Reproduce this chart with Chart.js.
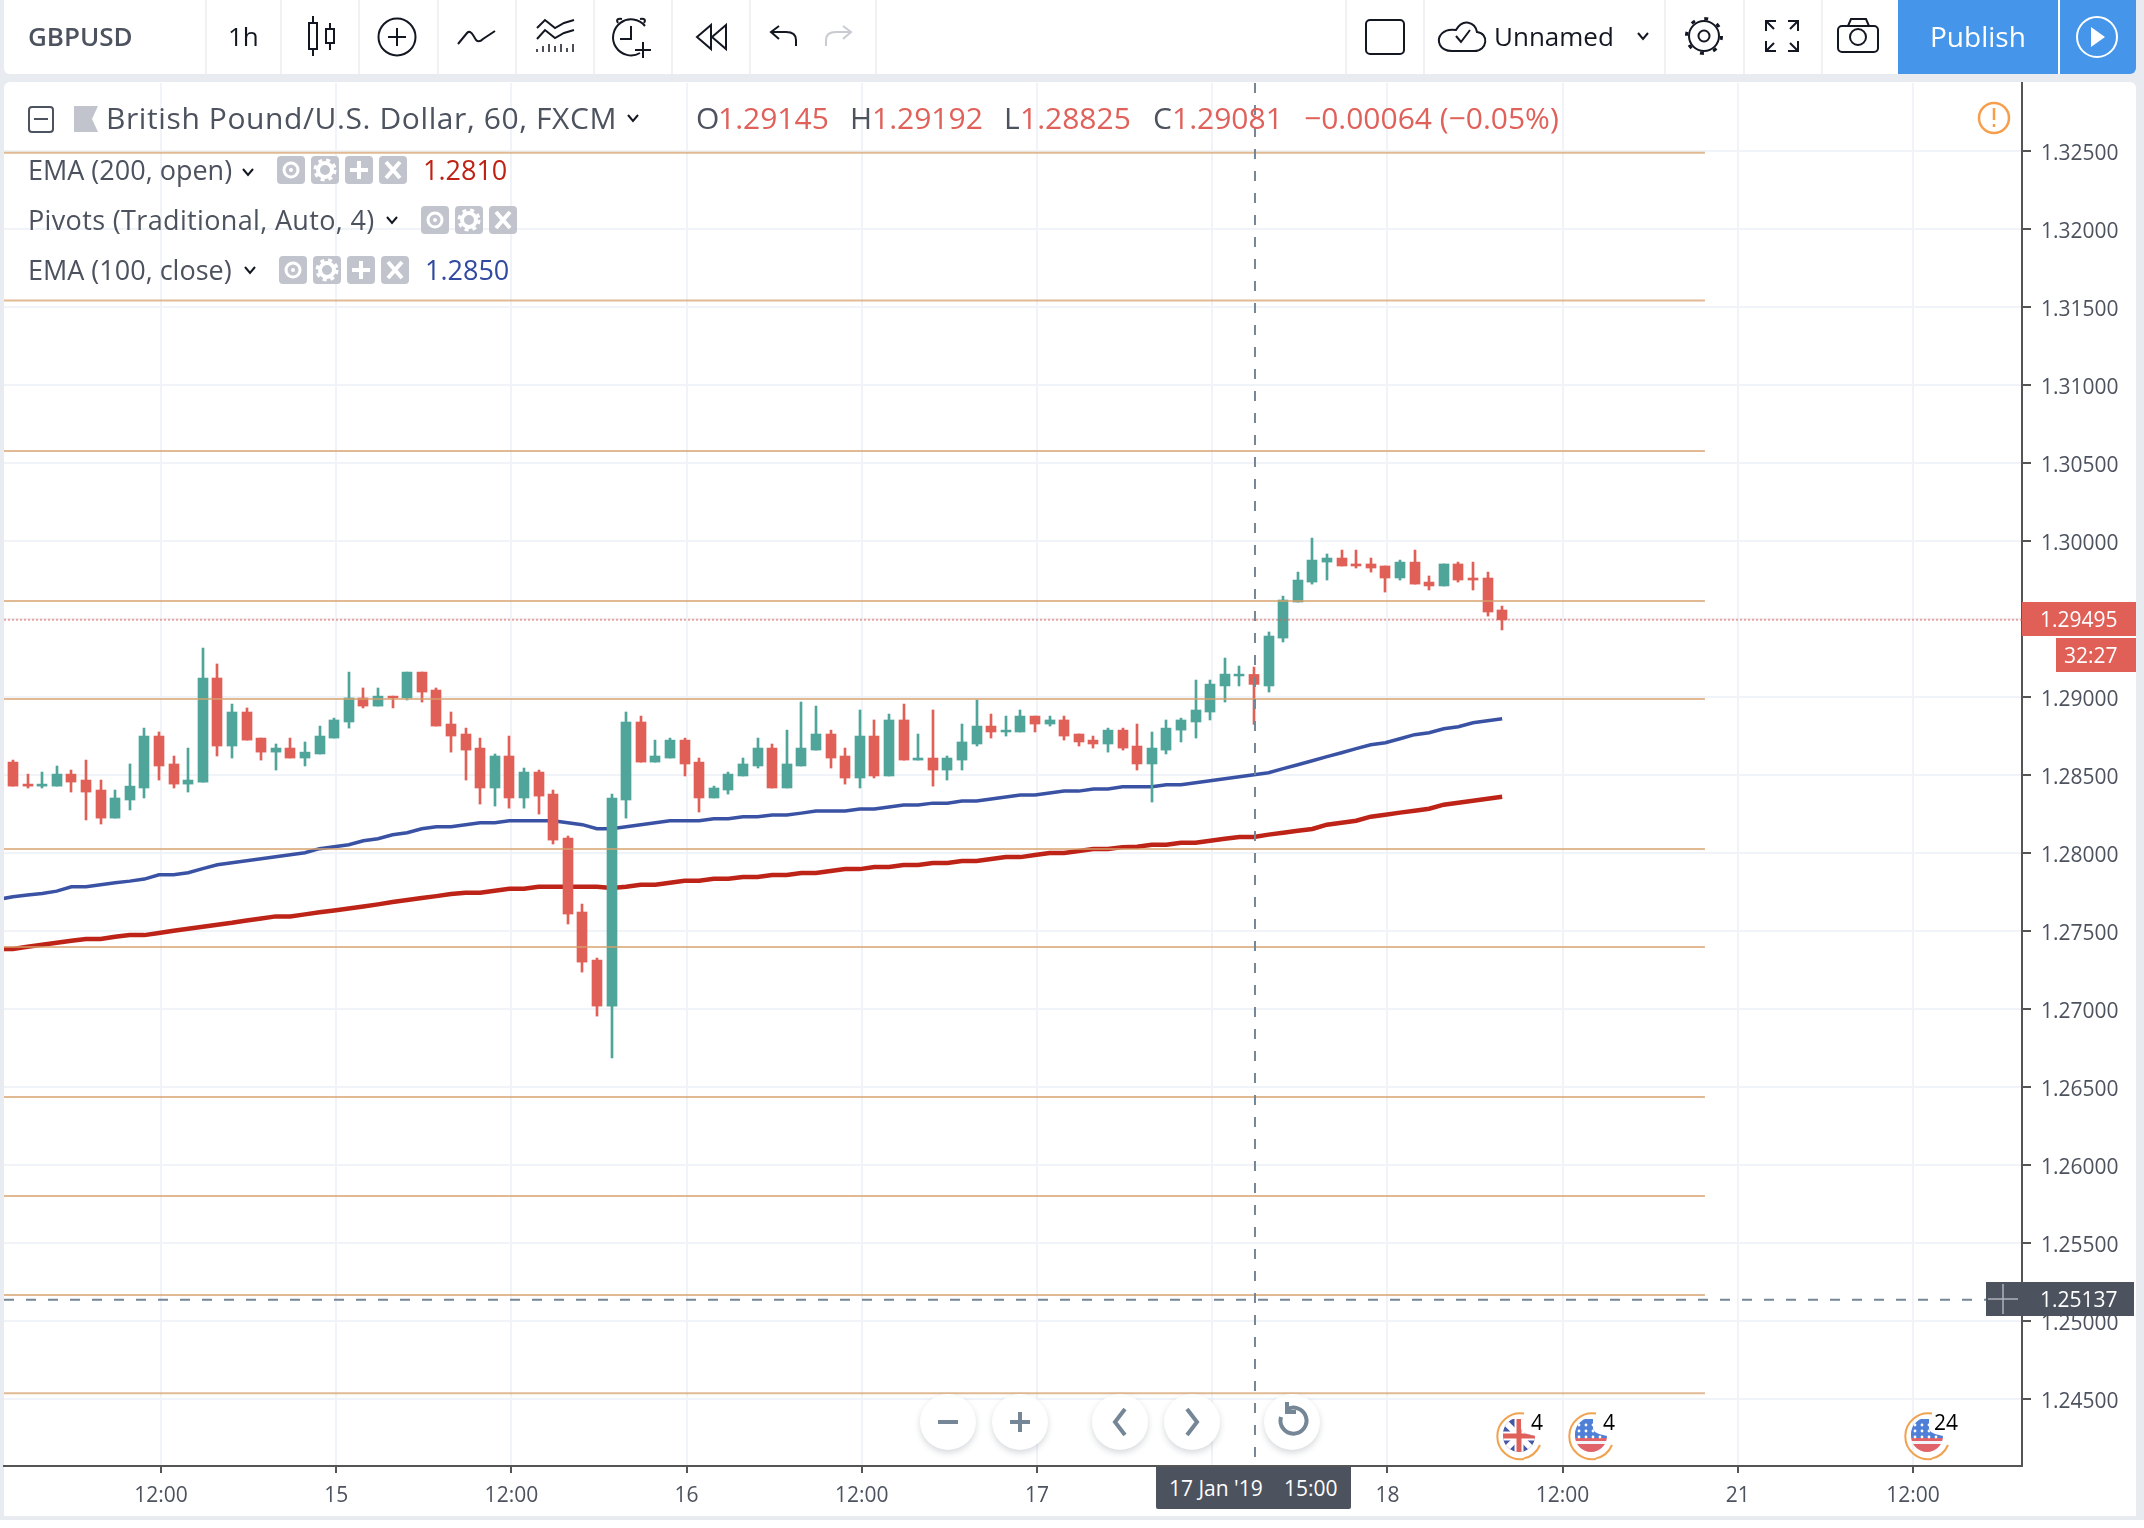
<!DOCTYPE html>
<html>
<head>
<meta charset="utf-8">
<title>GBPUSD</title>
<script src="https://cdn.jsdelivr.net/npm/chart.js@4/dist/chart.umd.min.js"></script>
<style>
  html, body { margin: 0; padding: 0; width: 2144px; height: 1528px; overflow: hidden; background: #e8ecf0; font-family: "Open Sans", sans-serif; }
  .box { position: absolute; }
  .t { position: absolute; white-space: nowrap; line-height: 40px; height: 40px; color: #4c525e; }
  .sep { position: absolute; top: 0; width: 2px; height: 74px; background: #eff1f3; }
  .btn { position: absolute; top: 1394px; width: 56px; height: 56px; border-radius: 50%; background: #fff; box-shadow: 0 3px 6px rgba(70,80,100,.22); }
  canvas { position: absolute; left: 0; top: 0; }
  svg { position: absolute; left: 0; top: 0; pointer-events: none; }
</style>
</head>
<body>
<div class="box" style="left:4px;top:0;width:2132px;height:74px;background:#fff;border-radius:0 0 6px 6px"></div>
<div class="box" style="left:4px;top:82px;width:2132px;height:1434px;background:#fff;border-radius:6px 6px 0 0"></div>
<div class="box" style="left:0;top:1520px;width:2144px;height:8px;background:#fff"></div>
<div class="sep" style="left:205px"></div><div class="sep" style="left:280px"></div><div class="sep" style="left:358px"></div>
<div class="sep" style="left:437px"></div><div class="sep" style="left:515px"></div><div class="sep" style="left:593px"></div>
<div class="sep" style="left:671px"></div><div class="sep" style="left:749px"></div><div class="sep" style="left:875px"></div>
<div class="sep" style="left:1345px"></div><div class="sep" style="left:1423px"></div><div class="sep" style="left:1664px"></div>
<div class="sep" style="left:1743px"></div><div class="sep" style="left:1821px"></div>
<div class="box" style="left:1898px;top:0;width:160px;height:74px;background:#4596ea"></div>
<div class="box" style="left:2060px;top:0;width:76px;height:74px;background:#4596ea;border-radius:0 0 6px 0"></div>

<canvas id="chart" width="2144" height="1528"></canvas>

<div class="box" style="left:2022px;top:602px;width:114px;height:34px;background:#e05f57"></div>
<div class="box" style="left:2056px;top:638px;width:80px;height:34px;background:#e05f57"></div>
<div class="box" style="left:1986px;top:1282px;width:148px;height:34px;background:#4c525e"></div>
<div class="box" style="left:1156px;top:1467px;width:195px;height:42px;background:#4c525e;border-radius:0 0 2px 2px"></div>
<div class="btn" style="left:920px"></div><div class="btn" style="left:992px"></div>
<div class="btn" style="left:1092px"></div><div class="btn" style="left:1164px"></div><div class="btn" style="left:1264px"></div>

<div class="t" style="left:28px;top:16px;font-size:26px;font-weight:600">GBPUSD</div>
<div class="t" style="left:228px;top:16px;font-size:26px;color:#131722">1h</div>
<div class="t" style="left:1494px;top:16px;font-size:26px;color:#131722">Unnamed</div>
<div class="t" style="left:1930px;top:16px;font-size:28px;color:#fff">Publish</div>

<div class="t" style="left:106px;top:98px;font-size:30px;letter-spacing:.6px">British Pound/U.S. Dollar, 60, FXCM</div>
<div class="t" style="left:696px;top:98px;font-size:30px">O</div><div class="t" style="left:718px;top:98px;font-size:30px;color:#e0605a">1.29145</div>
<div class="t" style="left:850px;top:98px;font-size:30px">H</div><div class="t" style="left:872px;top:98px;font-size:30px;color:#e0605a">1.29192</div>
<div class="t" style="left:1004px;top:98px;font-size:30px">L</div><div class="t" style="left:1020px;top:98px;font-size:30px;color:#e0605a">1.28825</div>
<div class="t" style="left:1153px;top:98px;font-size:30px">C</div><div class="t" style="left:1172px;top:98px;font-size:30px;color:#e0605a">1.29081</div>
<div class="t" style="left:1304px;top:98px;font-size:30px;color:#e0605a">−0.00064 (−0.05%)</div>

<div class="t" style="left:28px;top:150px;font-size:27px">EMA (200, open)</div>
<div class="t" style="left:423px;top:150px;font-size:27px;color:#bf2215">1.2810</div>
<div class="t" style="left:28px;top:200px;font-size:27px;letter-spacing:.35px">Pivots (Traditional, Auto, 4)</div>
<div class="t" style="left:28px;top:250px;font-size:27px">EMA (100, close)</div>
<div class="t" style="left:425px;top:250px;font-size:27px;color:#2f4aa0">1.2850</div>

<div class="t" style="left:2040px;top:599px;font-size:21px;color:#fff">1.29495</div>
<div class="t" style="left:2064px;top:635px;font-size:21px;color:#fff">32:27</div>
<div class="t" style="left:2040px;top:1279px;font-size:21px;color:#fff">1.25137</div>
<div class="t" style="left:1169px;top:1468px;font-size:21px;color:#fff">17 Jan '19</div>
<div class="t" style="left:1284px;top:1468px;font-size:21px;color:#fff">15:00</div>

<div class="t" style="left:1531px;top:1402px;font-size:21px;color:#000">4</div>
<div class="t" style="left:1603px;top:1402px;font-size:21px;color:#000">4</div>
<div class="t" style="left:1934px;top:1402px;font-size:21px;color:#000">24</div>

<svg id="icons" width="2144" height="1528" viewBox="0 0 2144 1528"></svg>

<script>
// GBPUSD 1h candles
const opens = [1.28583,1.28442,1.28429,1.28429,1.28506,1.28468,1.28404,1.28224,1.28340,1.28417,1.28750,1.28571,1.28442,1.28455,1.29122,1.28686,1.28904,1.28737,1.28647,1.28673,1.28609,1.28635,1.28737,1.28840,1.28994,1.28942,1.29006,1.28994,1.29160,1.29045,1.28827,1.28763,1.28673,1.28417,1.28622,1.28353,1.28519,1.28378,1.28096,1.27622,1.27314,1.27019,1.28340,1.28840,1.28583,1.28609,1.28724,1.28583,1.28353,1.28404,1.28494,1.28558,1.28673,1.28417,1.28558,1.28660,1.28763,1.28622,1.28481,1.28750,1.28494,1.28853,1.28596,1.28609,1.28532,1.28596,1.28699,1.28814,1.28776,1.28776,1.28878,1.28827,1.28853,1.28763,1.28724,1.28699,1.28788,1.28686,1.28571,1.28660,1.28788,1.28840,1.28904,1.29071,1.29135,1.29145,1.29071,1.29378,1.29609,1.29737,1.29865,1.29891,1.29853,1.29853,1.29840,1.29763,1.29865,1.29737,1.29712,1.29853,1.29763,1.29763,1.29558];
const highs = [1.28596,1.28506,1.28519,1.28558,1.28532,1.28596,1.28468,1.28404,1.28571,1.28801,1.28776,1.28622,1.28673,1.29314,1.29212,1.28955,1.28930,1.28737,1.28699,1.28737,1.28712,1.28814,1.28865,1.29160,1.29058,1.29058,1.29006,1.29160,1.29160,1.29058,1.28904,1.28801,1.28737,1.28635,1.28750,1.28545,1.28532,1.28404,1.28109,1.27673,1.27327,1.28378,1.28904,1.28878,1.28724,1.28737,1.28737,1.28609,1.28429,1.28519,1.28609,1.28737,1.28699,1.28788,1.28968,1.28942,1.28788,1.28673,1.28917,1.28853,1.28891,1.28955,1.28763,1.28917,1.28622,1.28827,1.28981,1.28891,1.28878,1.28917,1.28878,1.28878,1.28878,1.28763,1.28750,1.28801,1.28801,1.28827,1.28776,1.28853,1.28865,1.29109,1.29109,1.29250,1.29199,1.29192,1.29417,1.29647,1.29801,1.30019,1.29917,1.29942,1.29942,1.29891,1.29840,1.29878,1.29942,1.29776,1.29853,1.29865,1.29865,1.29801,1.29583];
const lows = [1.28429,1.28417,1.28417,1.28429,1.28391,1.28212,1.28186,1.28224,1.28276,1.28353,1.28468,1.28417,1.28391,1.28455,1.28622,1.28609,1.28724,1.28596,1.28532,1.28609,1.28558,1.28635,1.28737,1.28801,1.28930,1.28942,1.28930,1.28981,1.28968,1.28814,1.28647,1.28468,1.28314,1.28301,1.28288,1.28288,1.28250,1.28058,1.27545,1.27237,1.26955,1.26686,1.28224,1.28583,1.28583,1.28609,1.28494,1.28263,1.28353,1.28378,1.28494,1.28545,1.28417,1.28417,1.28558,1.28660,1.28545,1.28442,1.28417,1.28481,1.28494,1.28596,1.28596,1.28429,1.28468,1.28532,1.28686,1.28737,1.28750,1.28776,1.28776,1.28814,1.28724,1.28686,1.28673,1.28647,1.28660,1.28532,1.28327,1.28635,1.28712,1.28737,1.28853,1.28968,1.29071,1.28825,1.29032,1.29353,1.29609,1.29724,1.29750,1.29840,1.29827,1.29801,1.29673,1.29750,1.29724,1.29686,1.29712,1.29737,1.29686,1.29519,1.29430];
const closes = [1.28429,1.28429,1.28442,1.28506,1.28455,1.28391,1.28224,1.28353,1.28429,1.28750,1.28558,1.28442,1.28468,1.29122,1.28686,1.28904,1.28724,1.28647,1.28673,1.28609,1.28647,1.28750,1.28853,1.28994,1.28942,1.29006,1.28994,1.29160,1.29032,1.28814,1.28750,1.28660,1.28417,1.28622,1.28353,1.28519,1.28365,1.28083,1.27609,1.27301,1.27019,1.28353,1.28840,1.28583,1.28622,1.28724,1.28571,1.28353,1.28417,1.28506,1.28571,1.28673,1.28417,1.28571,1.28673,1.28763,1.28609,1.28481,1.28750,1.28494,1.28853,1.28596,1.28609,1.28532,1.28609,1.28712,1.28814,1.28776,1.28788,1.28878,1.28827,1.28853,1.28750,1.28712,1.28699,1.28788,1.28673,1.28571,1.28673,1.28801,1.28853,1.28917,1.29083,1.29147,1.29147,1.29081,1.29391,1.29622,1.29750,1.29878,1.29891,1.29840,1.29840,1.29827,1.29763,1.29865,1.29724,1.29712,1.29853,1.29750,1.29750,1.29545,1.29495];
// the two EMA arrays start one bar earlier, left of the visible edge
const ema100 = [1.27703,1.27720,1.27731,1.27741,1.27756,1.27784,1.27784,1.27797,1.27810,1.27820,1.27833,1.27861,1.27861,1.27874,1.27900,1.27925,1.27938,1.27951,1.27964,1.27976,1.27989,1.28002,1.28028,1.28041,1.28053,1.28079,1.28092,1.28117,1.28130,1.28156,1.28169,1.28169,1.28182,1.28194,1.28194,1.28207,1.28207,1.28207,1.28207,1.28194,1.28182,1.28156,1.28156,1.28169,1.28182,1.28194,1.28207,1.28207,1.28207,1.28220,1.28220,1.28233,1.28233,1.28244,1.28244,1.28256,1.28269,1.28269,1.28269,1.28282,1.28282,1.28295,1.28308,1.28308,1.28320,1.28320,1.28333,1.28333,1.28346,1.28359,1.28372,1.28372,1.28385,1.28397,1.28397,1.28410,1.28410,1.28425,1.28425,1.28425,1.28438,1.28438,1.28451,1.28464,1.28476,1.28489,1.28502,1.28515,1.28541,1.28566,1.28592,1.28618,1.28643,1.28669,1.28694,1.28707,1.28733,1.28759,1.28771,1.28797,1.28810,1.28835,1.28848,1.28861];
const ema200 = [1.27385,1.27385,1.27400,1.27412,1.27425,1.27438,1.27449,1.27449,1.27464,1.27474,1.27474,1.27487,1.27502,1.27515,1.27528,1.27541,1.27553,1.27568,1.27581,1.27594,1.27594,1.27607,1.27620,1.27632,1.27645,1.27658,1.27671,1.27686,1.27699,1.27712,1.27724,1.27737,1.27746,1.27746,1.27759,1.27771,1.27771,1.27784,1.27784,1.27784,1.27784,1.27784,1.27776,1.27784,1.27797,1.27797,1.27810,1.27823,1.27823,1.27835,1.27835,1.27846,1.27846,1.27859,1.27859,1.27872,1.27872,1.27885,1.27897,1.27897,1.27910,1.27910,1.27923,1.27923,1.27936,1.27936,1.27949,1.27949,1.27962,1.27974,1.27974,1.27987,1.28000,1.28000,1.28013,1.28026,1.28026,1.28038,1.28041,1.28053,1.28053,1.28066,1.28066,1.28079,1.28092,1.28103,1.28103,1.28118,1.28130,1.28143,1.28154,1.28182,1.28194,1.28207,1.28233,1.28246,1.28259,1.28271,1.28284,1.28310,1.28323,1.28335,1.28348,1.28361];
const pivotLevels = [1.32489,1.31542,1.30577,1.29615,1.28987,1.28026,1.27397,1.26436,1.25801,1.25167,1.24538];
const priceTicks = [1.245,1.25,1.255,1.26,1.265,1.27,1.275,1.28,1.285,1.29,1.295,1.30,1.305,1.31,1.315,1.32,1.325];
const timeTicks = [0,12,24,36,48,60,72,84,96,108,120];
const timeLabels = ['12:00','15','12:00','16','12:00','17','12:00','18','12:00','21','12:00'];
const lastPrice = 1.29495;
const crossPrice = 1.25137;
const crossHour = 74.93;

const UP = '#50a59b', DOWN = '#e05f57';
const FIRST_HOUR = -10, BAR_SHIFT = -0.14, PIVOT_END = 105.75;
const X_MIN = -10.753, X_MAX = 127.466, Y_MIN = 1.24071, Y_MAX = 1.32936;

const barX = i => i + FIRST_HOUR + BAR_SHIFT;
const colors = opens.map((o, i) => closes[i] >= o ? UP : DOWN);

function hline(price, x0, x1, style) {
  return Object.assign({type: 'line', pointRadius: 0, borderWidth: 2, data: [{x: x0, y: price}, {x: x1, y: price}]}, style);
}

const datasets = [
  {type: 'line', order: 6, pointRadius: 0, borderWidth: 4.5, borderColor: '#bd2317', data: ema200.map((v, i) => ({x: barX(i - 1), y: v}))},
  {type: 'line', order: 5, pointRadius: 0, borderWidth: 3.5, borderColor: '#3a52a4', data: ema100.map((v, i) => ({x: barX(i - 1), y: v}))},
  {type: 'bar', order: 4, grouped: false, barThickness: 2, backgroundColor: colors, data: lows.map((v, i) => ({x: barX(i), y: [v, highs[i]]}))},
  {type: 'bar', order: 3, grouped: false, barThickness: 10, backgroundColor: colors, data: opens.map((v, i) => ({x: barX(i), y: [v, closes[i]]}))},
  hline(lastPrice, X_MIN, X_MAX, {order: 2, borderColor: 'rgba(224,95,87,.55)', borderDash: [2, 2]}),
  hline(crossPrice, X_MIN, X_MAX, {order: 0, borderColor: '#758696', borderDash: [10, 12]}),
  {type: 'line', order: 0, pointRadius: 0, borderWidth: 2, borderColor: '#758696', borderDash: [10, 12],
    data: [{x: crossHour, y: Y_MAX}, {x: crossHour, y: Y_MIN}]}
];
pivotLevels.forEach(p => datasets.push(hline(p, X_MIN, PIVOT_END, {order: 1, borderColor: 'rgba(214,159,105,.72)'})));

// candles sit on whole pixels like the original, otherwise the wicks go blurry
const snapCandles = {
  id: 'snapCandles',
  afterDatasetsUpdate(chart) {
    chart.getSortedVisibleDatasetMetas().forEach(meta => {
      if (meta.type === 'bar') meta.data.forEach(el => { el.x = Math.round(el.x); });
    });
  }
};

new Chart(document.getElementById('chart'), {
  type: 'bar',
  data: {datasets},
  plugins: [snapCandles],
  options: {
    responsive: false,
    animation: false,
    events: [],
    layout: {padding: {left: 4, top: 83, right: 8, bottom: 12}},
    plugins: {legend: {display: false}, tooltip: {enabled: false}},
    elements: {bar: {borderWidth: 0, borderSkipped: false}, line: {tension: 0}},
    scales: {
      x: {
        type: 'linear', min: X_MIN, max: X_MAX, offset: false,
        grid: {offset: false, color: '#f0f3f7', lineWidth: 2, tickColor: '#555', tickLength: 7, tickWidth: 2},
        border: {color: '#555', width: 2},
        afterFit(scale) { scale.height = 50; },
        afterBuildTicks(scale) { scale.ticks = timeTicks.map(v => ({value: v})); },
        ticks: {
          autoSkip: false, maxRotation: 0, padding: 10, color: '#4c525e',
          font: {family: '"Open Sans"', size: 21},
          callback: v => timeLabels[timeTicks.indexOf(v)]
        }
      },
      y: {
        position: 'right', min: Y_MIN, max: Y_MAX,
        grid: {color: '#f0f3f7', lineWidth: 2, tickColor: '#555', tickLength: 9, tickWidth: 2},
        border: {color: '#555', width: 2},
        afterFit(scale) { scale.width = 114; },
        afterBuildTicks(scale) { scale.ticks = priceTicks.map(v => ({value: v})); },
        ticks: {
          autoSkip: false, padding: 10, labelOffset: 3, color: '#4c525e',
          font: {family: '"Open Sans"', size: 21},
          callback: v => v.toFixed(5)
        }
      }
    }
  }
});

// toolbar and legend glyphs
const INK = 'fill="none" stroke="#131722" stroke-width="2"';
const GREY = '#758696';
function legendButton(x, y, kind) {
  let g = '';
  if (kind === 'eye') g = `<circle cx="${x+14}" cy="${y+14}" r="7" fill="none" stroke="#fff" stroke-width="3"/><circle cx="${x+14}" cy="${y+14}" r="2" fill="#fff"/>`;
  if (kind === 'gear') g = `<circle cx="${x+14}" cy="${y+14}" r="7" fill="none" stroke="#fff" stroke-width="4"/><circle cx="${x+14}" cy="${y+14}" r="10" fill="none" stroke="#fff" stroke-width="3" stroke-dasharray="4 4"/>`;
  if (kind === 'plus') g = `<path d="M${x+14} ${y+5}V${y+23}M${x+5} ${y+14}H${x+23}" stroke="#fff" stroke-width="4"/>`;
  if (kind === 'x') g = `<path d="M${x+7} ${y+6}L${x+21} ${y+22}M${x+21} ${y+6}L${x+7} ${y+22}" stroke="#fff" stroke-width="4"/>`;
  return `<rect x="${x}" y="${y}" width="28" height="28" rx="4" fill="#c1c4cd"/>` + g;
}
function chevron(x, y) {
  return `<path d="M${x-5} ${y-3}L${x} ${y+3}L${x+5} ${y-3}" fill="none" stroke="#131722" stroke-width="2"/>`;
}
function flagRing(cx, cy) {
  return `<path d="M${cx+5} ${cy+23}A23 23 0 1 1 ${cx+5} ${cy-22.4}M${cx+21} ${cy+9}A23 23 0 0 1 ${cx+5} ${cy+22.4}" fill="none" stroke="#f0a24e" stroke-width="2"/>`;
}
const flagShape = (cx, cy) => `M${cx-16} ${cy}a16 16 0 1 0 32 0l-8 -2l-4 -2l-2 -3v-11a16 16 0 0 0 -18 16z`;
function flagUK(cx, cy) {
  return `<clipPath id="uk${cx}"><path d="${flagShape(cx, cy)}"/></clipPath>
  <g clip-path="url(#uk${cx})"><rect x="${cx-17}" y="${cy-17}" width="34" height="34" fill="#4458a6"/>
  <path d="M${cx-16} ${cy-16}L${cx+16} ${cy+16}M${cx+16} ${cy-16}L${cx-16} ${cy+16}" stroke="#fff" stroke-width="6"/>
  <path d="M${cx} ${cy-17}V${cy+17}M${cx-17} ${cy}H${cx+17}" stroke="#fff" stroke-width="9"/>
  <path d="M${cx} ${cy-17}V${cy+17}M${cx-17} ${cy}H${cx+17}" stroke="#e0605a" stroke-width="5"/></g>` + flagRing(cx, cy);
}
function flagUS(cx, cy) {
  let stars = '';
  for (let r = 0; r < 3; r++) for (let c = 0; c < 4; c++) stars += `<circle cx="${cx-12+c*7}" cy="${cy-11+r*6}" r="1.4" fill="#fff"/>`;
  return `<clipPath id="us${cx}"><path d="${flagShape(cx, cy)}"/></clipPath>
  <g clip-path="url(#us${cx})"><rect x="${cx-17}" y="${cy-17}" width="34" height="19" fill="#4f7fd6"/>
  <rect x="${cx-17}" y="${cy+2}" width="34" height="3" fill="#e0636a"/><rect x="${cx-17}" y="${cy+5}" width="34" height="3" fill="#f4f4f6"/>
  <rect x="${cx-17}" y="${cy+8}" width="34" height="9" fill="#e0636a"/>${stars}</g>` + flagRing(cx, cy);
}

let icons = `
  <g ${INK}>
    <path d="M313 16V23M313 49V56M330 23V29M330 43V50"/><rect x="309" y="23" width="8" height="26"/><rect x="326" y="29" width="8" height="14"/>
    <circle cx="397" cy="37" r="18.5"/><path d="M397 28V46M388 37H406"/>
    <path d="M458 44L467 33Q470 30 473 35L476 40Q479 43 483 39L495 31"/>
    <path d="M537 28L545 20L555 28L564 23L574 20M537 39L545 30L555 38L564 33L574 30"/>
    <path d="M537 52V49M543 52V46M549 52V44M555 52V46M561 52V44M567 52V48M573 52V44" stroke-width="1.5"/>
    <path d="M640 53A18 18 0 1 1 645 26"/><path d="M631 26V39H620M618 23Q615 18 622 19M644 23Q647 18 640 19"/><path d="M643 42V58M635 50H651"/>
    <path d="M711 25L697 37L711 49ZM726 25L712 37L726 49Z"/>
    <path d="M796 46V40Q796 32 786 32H771M779 26L771 32L779 39"/>
    <rect x="1366" y="20" width="38" height="34" rx="4"/>
    <path d="M1452 51H1474C1488 51 1489 33 1477 32C1475 22 1463 18 1456 30C1444 28 1436 36 1440 45C1442 49 1446 51 1452 51Z"/><path d="M1456 36L1461 42L1470 30"/>
    <circle cx="1704" cy="36" r="5.5"/><circle cx="1704" cy="36" r="15"/><circle cx="1704" cy="36" r="17.5" stroke-width="3" stroke-dasharray="4 9.7"/>
    <path d="M1766 31V21H1776M1766 21L1774 29M1798 31V21H1788M1798 21L1790 29M1766 41V51H1776M1766 51L1774 43M1798 41V51H1788M1798 51L1790 43"/>
    <rect x="1838" y="26" width="40" height="26" rx="4"/><path d="M1848 26L1851 19H1866L1869 26"/><circle cx="1858" cy="37" r="8"/>
  </g>
  <path d="M826 46V40Q826 32 836 32H851M843 26L851 32L843 39" fill="none" stroke="#c8cbd1" stroke-width="2"/>
  ${chevron(1643, 36)}
  <circle cx="2097" cy="37" r="20" fill="none" stroke="#fff" stroke-width="2"/><path d="M2091 27L2105 37L2091 47Z" fill="#fff"/>
  <rect x="29" y="107" width="24" height="25" rx="3" fill="none" stroke="#4c525e" stroke-width="2"/><path d="M34 119H48" stroke="#4c525e" stroke-width="2"/>
  <path d="M74 106H98L92 119L98 132H74Z" fill="#c1c4cd"/>
  ${chevron(633, 118)}${chevron(248, 172)}${chevron(392, 220)}${chevron(250, 270)}
  <circle cx="1994" cy="118" r="15" fill="none" stroke="#f79e4d" stroke-width="2.5"/><path d="M1994 108V120M1994 124V127" stroke="#f79e4d" stroke-width="2.5"/>
  <path d="M1988 1299H2018M2003 1284V1314" stroke="#aeb3bc" stroke-width="1.5"/>
  <g transform="translate(0 1)">
    <path d="M938 1421H958" stroke="${GREY}" stroke-width="4"/><path d="M1010 1421H1030M1020 1411V1431" stroke="${GREY}" stroke-width="4"/>
    <path d="M1125 1408L1115 1421L1125 1434" fill="none" stroke="${GREY}" stroke-width="4"/><path d="M1187 1408L1197 1421L1187 1434" fill="none" stroke="${GREY}" stroke-width="4"/>
    <path d="M1286 1409A13 13 0 1 1 1281 1416M1287 1401V1411H1296" fill="none" stroke="${GREY}" stroke-width="4"/>
  </g>
  ${flagUK(1519, 1436)}${flagUS(1591, 1436)}${flagUS(1927, 1436)}
`;
[277, 311, 345, 379].forEach((x, i) => { icons += legendButton(x, 156, ['eye', 'gear', 'plus', 'x'][i]); });
[421, 455, 489].forEach((x, i) => { icons += legendButton(x, 206, ['eye', 'gear', 'x'][i]); });
[279, 313, 347, 381].forEach((x, i) => { icons += legendButton(x, 256, ['eye', 'gear', 'plus', 'x'][i]); });
document.getElementById('icons').innerHTML = icons;
</script>
</body>
</html>
